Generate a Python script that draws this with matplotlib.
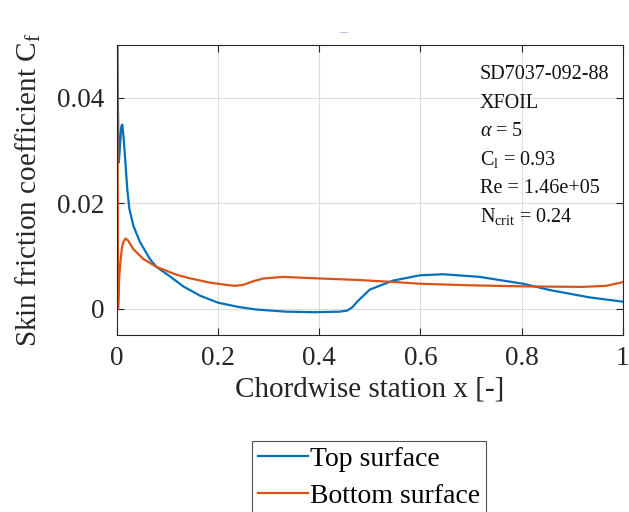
import matplotlib
matplotlib.use("Agg")
import matplotlib.pyplot as plt

plt.rcParams['font.family'] = ['Liberation Serif', 'DejaVu Serif']
plt.rcParams['mathtext.fontset'] = 'custom'
plt.rcParams['mathtext.rm'] = 'Liberation Serif'
plt.rcParams['mathtext.it'] = 'Liberation Serif:italic'

# Top surface Cf
top_x = [0.0, 0.0015, 0.0036, 0.006, 0.0085, 0.0105, 0.013, 0.0158, 0.0182, 0.0204, 0.0245,
         0.0324, 0.0455, 0.065, 0.078, 0.1047, 0.131, 0.165, 0.2, 0.24, 0.276, 0.335, 0.39,
         0.44, 0.455, 0.465, 0.476, 0.5, 0.546, 0.599, 0.645, 0.717, 0.803, 0.856, 0.935, 1.0]
top_cf = [0.06, 0.04, 0.0277, 0.031, 0.0345, 0.0349, 0.0325, 0.0289, 0.0255, 0.0226, 0.0189,
          0.0157, 0.0126, 0.0094, 0.0079, 0.0061, 0.0042, 0.0024, 0.0011, 0.0003, -0.0002, -0.0006, -0.0007,
          -0.0006, -0.0004, 0.0002, 0.0014, 0.0036, 0.0053, 0.0063, 0.0065,
          0.006, 0.0047, 0.0035, 0.0021, 0.0013]

# Bottom surface Cf
bot_x = [0.0, 0.0022, 0.0045, 0.0073, 0.0098, 0.0123, 0.017, 0.022, 0.032, 0.052, 0.078, 0.118,
         0.141, 0.184, 0.215, 0.233, 0.25, 0.27, 0.29, 0.329, 0.401, 0.48, 0.553, 0.599, 0.7,
         0.803, 0.92, 0.967, 1.0]
bot_cf = [0.06, 0.0, 0.0062, 0.0094, 0.0115, 0.0126, 0.0133, 0.0129, 0.0113, 0.0094, 0.0079, 0.0064,
          0.0058, 0.0049, 0.0045, 0.0043, 0.0045, 0.0052, 0.0057, 0.006, 0.0057, 0.0054, 0.005, 0.0047, 0.0044,
          0.0042, 0.0041, 0.0043, 0.005]

xticks = [0, 0.2, 0.4, 0.6, 0.8, 1]
xticklabels = ['0', '0.2', '0.4', '0.6', '0.8', '1']
yticks = [0, 0.02, 0.04]
yticklabels = ['0', '0.02', '0.04']

info_lines = ['SD7037-092-88', 'XFOIL', r'$\alpha$ = 5', r'C$_\mathregular{l}$ = 0.93',
              'Re = 1.46e+05', r'N$_\mathregular{crit}$ = 0.24']

fig = plt.figure(figsize=(6.29, 5.12), dpi=100)
ax = fig.add_axes([0.186, 0.346, 0.804, 0.566])

ax.plot(top_x, top_cf, color='#0072BD', lw=1.6, label='Top surface')
ax.plot(bot_x, bot_cf, color='#D95319', lw=1.6, label='Bottom surface')

ax.set_xlim(0, 1)
ax.set_ylim(-0.005, 0.05)
ax.set_xticks(xticks)
ax.set_xticklabels(xticklabels)
ax.set_yticks(yticks)
ax.set_yticklabels(yticklabels)
ax.tick_params(direction='in', top=True, right=True, labelsize=19.5, length=5,
               color='#262626', labelcolor='#262626')
ax.tick_params(axis='y', pad=9)
ax.tick_params(axis='x', pad=8)
ax.grid(True, color='#dcdcdc', lw=0.8)
for s in ax.spines.values():
    s.set_color('#262626')
    s.set_linewidth(0.8)

ax.set_xlabel('Chordwise station x [-]', fontsize=21, color='#262626', labelpad=4)
ax.set_ylabel(r'Skin friction coefficient C$_\mathregular{f}$', fontsize=21, color='#262626', labelpad=10)

y0 = 0.898
for i, t in enumerate(info_lines):
    ax.text(0.717, y0 - i * 0.098, t, transform=ax.transAxes, fontsize=14.5,
            va='center', ha='left', color='#111111')

fig.text(0.545, 0.937, '\u2013', color='#8fb4dc', fontsize=12, ha='center', va='center')

leg = fig.legend(*ax.get_legend_handles_labels(), loc='upper left',
                 bbox_to_anchor=(252 / 629, 1 - 441 / 512), bbox_transform=fig.transFigure,
                 fontsize=20, frameon=True, fancybox=False, edgecolor='#262626',
                 handlelength=1.8, handletextpad=0.1, borderpad=0.2, labelspacing=0.42,
                 borderaxespad=0)
leg.get_frame().set_linewidth(0.8)

fig.savefig('out.png', dpi=100)
